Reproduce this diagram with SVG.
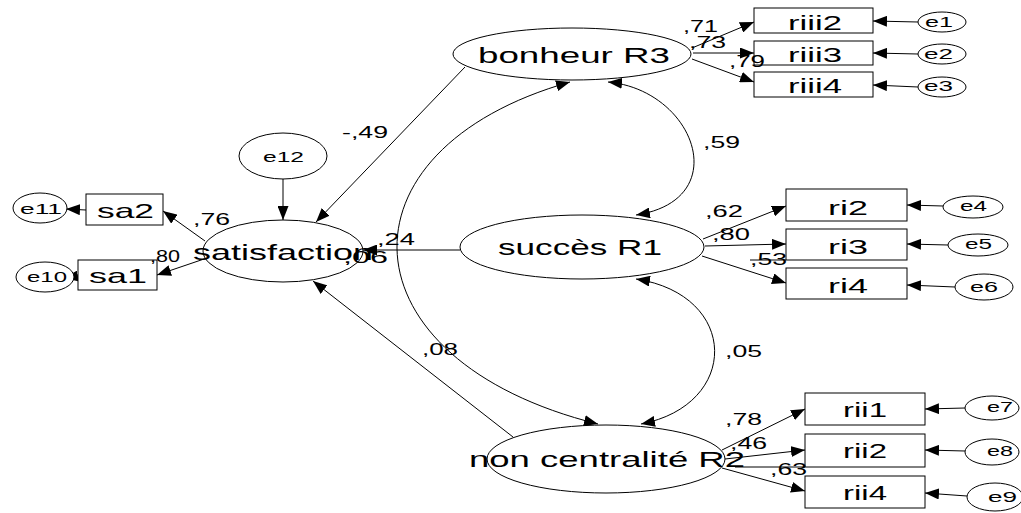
<svg xmlns="http://www.w3.org/2000/svg" width="1021" height="513" viewBox="0 0 1021 513">
<defs>
<marker id="ah" markerUnits="userSpaceOnUse" markerWidth="14" markerHeight="11" refX="14" refY="5.5" orient="auto-start-reverse" viewBox="0 0 14 11">
<path d="M0,0 L14,5.5 L0,11 z" fill="#000"/>
</marker>
</defs>
<style>
.n{fill:#fff;stroke:#000;stroke-width:1}
.t{font-family:"Liberation Sans",Arial,sans-serif;fill:#000}
.big{font-size:22px}
.mid{font-size:21px}
.sm{font-size:15px}
.lab{font-size:17px}
.c path,.c line{fill:none;stroke:#000;stroke-width:1}
.a{marker-end:url(#ah)}
.d{marker-start:url(#ah);marker-end:url(#ah)}
</style>
<rect width="1021" height="513" fill="#fff"/>
<g id="connectors" class="c">
<line class="a" x1="692" y1="48" x2="754" y2="22"/>
<line class="a" x1="693" y1="53" x2="754" y2="53"/>
<line class="a" x1="692" y1="59" x2="754" y2="82"/>
<line class="a" x1="918" y1="22" x2="873" y2="21"/>
<line class="a" x1="918" y1="54" x2="873" y2="53"/>
<line class="a" x1="918" y1="87" x2="873" y2="85"/>
<line class="a" x1="703" y1="239" x2="786" y2="206"/>
<line class="a" x1="705" y1="246" x2="786" y2="244"/>
<line class="a" x1="702" y1="256" x2="786" y2="283"/>
<line class="a" x1="943" y1="206" x2="907" y2="205"/>
<line class="a" x1="948" y1="245" x2="907" y2="244"/>
<line class="a" x1="955" y1="287" x2="907" y2="285"/>
<line class="a" x1="722" y1="450" x2="805" y2="409"/>
<line class="a" x1="725" y1="459" x2="805" y2="450"/>
<line class="a" x1="722" y1="468" x2="805" y2="491"/>
<line class="a" x1="965" y1="408" x2="925" y2="409"/>
<line class="a" x1="965" y1="451" x2="925" y2="450"/>
<line class="a" x1="967" y1="496" x2="925" y2="493"/>
<line class="a" x1="86" y1="210" x2="66" y2="209"/>
<line class="a" x1="78" y1="276" x2="64" y2="278"/>
<line class="a" x1="205" y1="241" x2="163" y2="211"/>
<line class="a" x1="207" y1="258" x2="157" y2="275"/>
<line class="a" x1="283" y1="179" x2="283" y2="220"/>
<line class="a" x1="465" y1="67" x2="316" y2="222"/>
<line class="a" x1="460" y1="250" x2="363" y2="250"/>
<line class="a" x1="513" y1="437" x2="313" y2="281"/>
<path class="d" d="M570,82 C330,150 340,360 598,424"/>
<path class="d" d="M608,82 C695,90 735,200 636,215"/>
<path class="d" d="M636,279 C740,295 740,405 641,424"/>
<line x1="750" y1="260" x2="786" y2="260"/>
<line x1="735" y1="467" x2="805" y2="467"/>
</g>
<g id="bonheur">
<ellipse class="n" cx="572" cy="54" rx="119" ry="26"/>
<text class="t big" x="478" y="63" textLength="192" lengthAdjust="spacingAndGlyphs">bonheur R3</text>
</g>
<g id="succes">
<ellipse class="n" cx="582" cy="247" rx="122" ry="32"/>
<text class="t big" x="498" y="255" textLength="164" lengthAdjust="spacingAndGlyphs">succès R1</text>
</g>
<g id="noncentralite">
<ellipse class="n" cx="606" cy="459" rx="119" ry="34"/>
<text class="t big" x="469" y="467" textLength="276" lengthAdjust="spacingAndGlyphs">non centralité R2</text>
</g>
<g id="satisfaction">
<ellipse class="n" cx="283" cy="251" rx="80" ry="31"/>
<text class="t big" x="193" y="260" textLength="180" lengthAdjust="spacingAndGlyphs">satisfaction</text>
</g>
<g id="riii2"><rect class="n" x="754" y="8" width="119" height="25"/><text class="t mid" x="788" y="30" textLength="54" lengthAdjust="spacingAndGlyphs">riii2</text></g>
<g id="riii3"><rect class="n" x="754" y="41" width="119" height="24"/><text class="t mid" x="788" y="62" textLength="54" lengthAdjust="spacingAndGlyphs">riii3</text></g>
<g id="riii4"><rect class="n" x="754" y="72" width="119" height="25"/><text class="t mid" x="788" y="93" textLength="54" lengthAdjust="spacingAndGlyphs">riii4</text></g>
<g id="ri2"><rect class="n" x="786" y="189" width="121" height="32"/><text class="t mid" x="828" y="215" textLength="40" lengthAdjust="spacingAndGlyphs">ri2</text></g>
<g id="ri3"><rect class="n" x="786" y="229" width="121" height="31"/><text class="t mid" x="828" y="254" textLength="40" lengthAdjust="spacingAndGlyphs">ri3</text></g>
<g id="ri4"><rect class="n" x="786" y="268" width="121" height="31"/><text class="t mid" x="828" y="293" textLength="40" lengthAdjust="spacingAndGlyphs">ri4</text></g>
<g id="rii1"><rect class="n" x="805" y="393" width="120" height="32"/><text class="t mid" x="843" y="417" textLength="44" lengthAdjust="spacingAndGlyphs">rii1</text></g>
<g id="rii2"><rect class="n" x="805" y="434" width="120" height="33"/><text class="t mid" x="843" y="458" textLength="44" lengthAdjust="spacingAndGlyphs">rii2</text></g>
<g id="rii4"><rect class="n" x="805" y="476" width="120" height="32"/><text class="t mid" x="843" y="500" textLength="44" lengthAdjust="spacingAndGlyphs">rii4</text></g>
<g id="sa2"><rect class="n" x="86" y="194" width="77" height="31"/><text class="t mid" x="97" y="218" textLength="57" lengthAdjust="spacingAndGlyphs">sa2</text></g>
<g id="sa1"><rect class="n" x="78" y="260" width="79" height="30"/><text class="t mid" x="89" y="283" textLength="58" lengthAdjust="spacingAndGlyphs">sa1</text></g>
<g id="e1"><ellipse class="n" cx="942" cy="22" rx="24" ry="10"/><text class="t sm" x="925" y="27" textLength="28" lengthAdjust="spacingAndGlyphs">e1</text></g>
<g id="e2"><ellipse class="n" cx="942" cy="54" rx="24" ry="10"/><text class="t sm" x="924" y="59" textLength="29" lengthAdjust="spacingAndGlyphs">e2</text></g>
<g id="e3"><ellipse class="n" cx="942" cy="87" rx="24" ry="10"/><text class="t sm" x="924" y="91" textLength="29" lengthAdjust="spacingAndGlyphs">e3</text></g>
<g id="e4"><ellipse class="n" cx="973" cy="207" rx="30" ry="11"/><text class="t sm" x="960" y="211" textLength="27" lengthAdjust="spacingAndGlyphs">e4</text></g>
<g id="e5"><ellipse class="n" cx="978" cy="245" rx="30" ry="11"/><text class="t sm" x="965" y="249" textLength="27" lengthAdjust="spacingAndGlyphs">e5</text></g>
<g id="e6"><ellipse class="n" cx="984" cy="287" rx="29" ry="13"/><text class="t sm" x="970" y="292" textLength="28" lengthAdjust="spacingAndGlyphs">e6</text></g>
<g id="e7"><ellipse class="n" cx="992" cy="408" rx="27" ry="12"/><text class="t sm" x="987" y="412" textLength="26" lengthAdjust="spacingAndGlyphs">e7</text></g>
<g id="e8"><ellipse class="n" cx="992" cy="452" rx="27" ry="13"/><text class="t sm" x="987" y="456" textLength="26" lengthAdjust="spacingAndGlyphs">e8</text></g>
<g id="e9"><ellipse class="n" cx="995" cy="497" rx="28" ry="14"/><text class="t sm" x="988" y="502" textLength="29" lengthAdjust="spacingAndGlyphs">e9</text></g>
<g id="e10"><ellipse class="n" cx="45" cy="277" rx="29" ry="15"/><text class="t sm" x="27" y="282" textLength="40" lengthAdjust="spacingAndGlyphs">e10</text></g>
<g id="e11"><ellipse class="n" cx="40" cy="208" rx="27" ry="15"/><text class="t sm" x="20" y="214" textLength="42" lengthAdjust="spacingAndGlyphs">e11</text></g>
<g id="e12"><ellipse class="n" cx="283" cy="156" rx="44" ry="23"/><text class="t sm" x="263" y="162" textLength="41" lengthAdjust="spacingAndGlyphs">e12</text></g>
<g id="labels">
<text class="t lab" x="683" y="32" textLength="35" lengthAdjust="spacingAndGlyphs">,71</text>
<text class="t lab" x="689" y="48" textLength="37" lengthAdjust="spacingAndGlyphs">,73</text>
<text class="t lab" x="729" y="67" textLength="36" lengthAdjust="spacingAndGlyphs">,79</text>
<text class="t lab" x="193" y="225" textLength="37" lengthAdjust="spacingAndGlyphs">,76</text>
<text class="t lab" x="150" y="262" textLength="30" lengthAdjust="spacingAndGlyphs">,80</text>
<text class="t lab" x="342" y="138" textLength="46" lengthAdjust="spacingAndGlyphs">-,49</text>
<text class="t lab" x="377" y="245" textLength="38" lengthAdjust="spacingAndGlyphs">,24</text>
<text class="t lab" x="343" y="263" textLength="45" lengthAdjust="spacingAndGlyphs">,06</text>
<text class="t lab" x="703" y="148" textLength="37" lengthAdjust="spacingAndGlyphs">,59</text>
<text class="t lab" x="705" y="217" textLength="38" lengthAdjust="spacingAndGlyphs">,62</text>
<text class="t lab" x="712" y="240" textLength="38" lengthAdjust="spacingAndGlyphs">,80</text>
<text class="t lab" x="750" y="265" textLength="37" lengthAdjust="spacingAndGlyphs">,53</text>
<text class="t lab" x="422" y="355" textLength="36" lengthAdjust="spacingAndGlyphs">,08</text>
<text class="t lab" x="725" y="357" textLength="37" lengthAdjust="spacingAndGlyphs">,05</text>
<text class="t lab" x="725" y="425" textLength="37" lengthAdjust="spacingAndGlyphs">,78</text>
<text class="t lab" x="730" y="449" textLength="37" lengthAdjust="spacingAndGlyphs">,46</text>
<text class="t lab" x="770" y="475" textLength="37" lengthAdjust="spacingAndGlyphs">,63</text>
</g>
</svg>
